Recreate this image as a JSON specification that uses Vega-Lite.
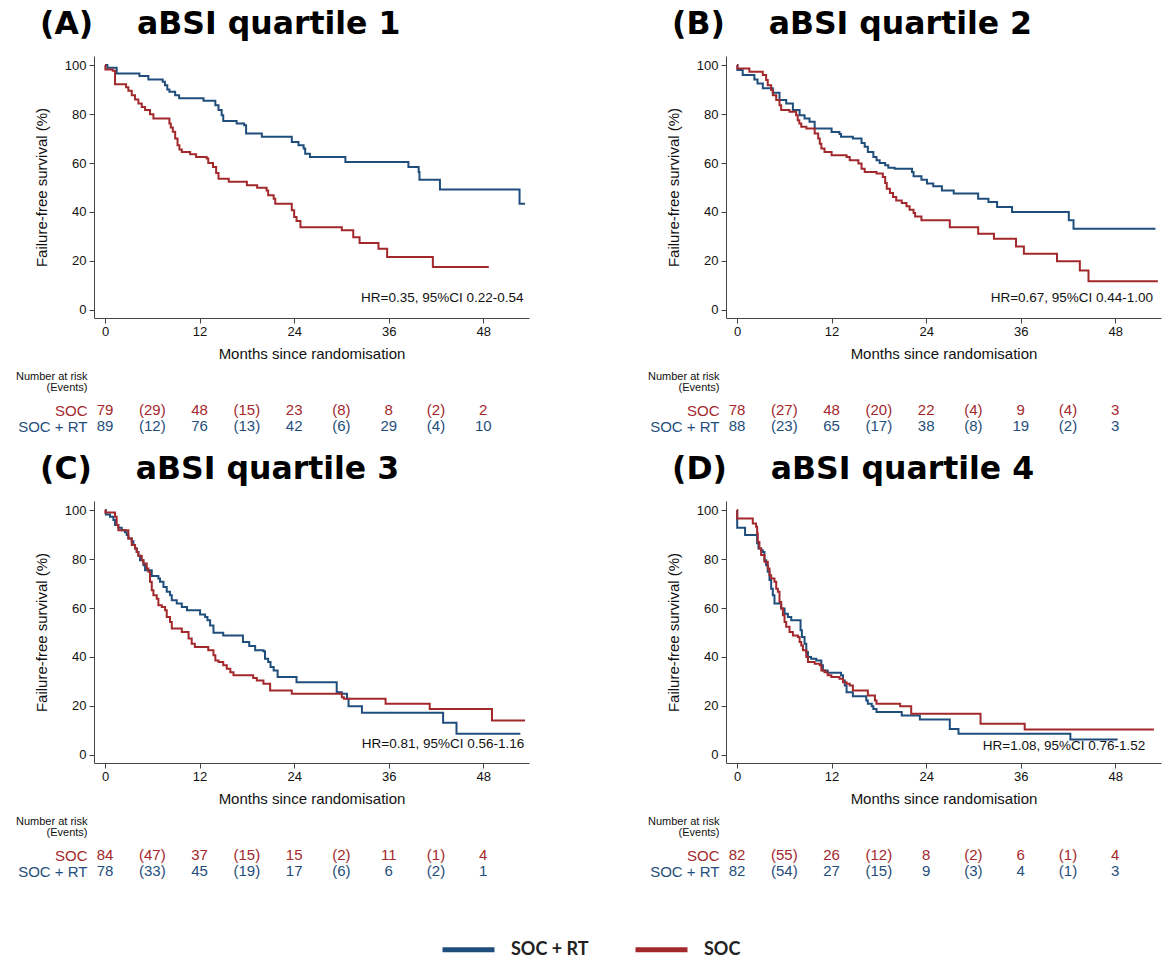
{
  "$schema": "https://vega.github.io/schema/vega-lite/v6.json",
  "padding": {"left": 15, "top": 8, "right": 2, "bottom": 2},
  "background": "white",
  "config": {
    "view": {"stroke": null},
    "axis": {"domainColor": "#444", "tickColor": "#444", "labelColor": "#111", "titleColor": "#111", "labelFont": "Liberation Sans", "titleFont": "Liberation Sans", "titleFontWeight": "normal", "grid": false, "labelFontSize": 13, "titleFontSize": 15},
    "text": {"font": "Liberation Sans"}
  },
  "datasets": {
    "curves": [
      {"p":"A","g":"SOC + RT","t":0,"s":100},{"p":"A","g":"SOC + RT","t":0.3,"s":98.9},{"p":"A","g":"SOC + RT","t":1.48,"s":96.6},{"p":"A","g":"SOC + RT","t":4.36,"s":95.5},{"p":"A","g":"SOC + RT","t":5.5,"s":94.1},{"p":"A","g":"SOC + RT","t":7.32,"s":93.2},{"p":"A","g":"SOC + RT","t":7.6,"s":91.8},{"p":"A","g":"SOC + RT","t":7.9,"s":90.0},{"p":"A","g":"SOC + RT","t":8.17,"s":89.1},{"p":"A","g":"SOC + RT","t":8.9,"s":87.7},{"p":"A","g":"SOC + RT","t":9.4,"s":86.4},{"p":"A","g":"SOC + RT","t":12.5,"s":85.4},{"p":"A","g":"SOC + RT","t":14.0,"s":83.6},{"p":"A","g":"SOC + RT","t":14.4,"s":81.6},{"p":"A","g":"SOC + RT","t":14.8,"s":79.5},{"p":"A","g":"SOC + RT","t":15.0,"s":77.2},{"p":"A","g":"SOC + RT","t":16.7,"s":76.1},{"p":"A","g":"SOC + RT","t":17.65,"s":75.4},{"p":"A","g":"SOC + RT","t":17.9,"s":72.0},{"p":"A","g":"SOC + RT","t":19.9,"s":70.7},{"p":"A","g":"SOC + RT","t":23.7,"s":68.6},{"p":"A","g":"SOC + RT","t":24.55,"s":67.3},{"p":"A","g":"SOC + RT","t":25.2,"s":65.9},{"p":"A","g":"SOC + RT","t":25.4,"s":63.8},{"p":"A","g":"SOC + RT","t":26.0,"s":62.5},{"p":"A","g":"SOC + RT","t":30.5,"s":60.4},{"p":"A","g":"SOC + RT","t":38.5,"s":58.4},{"p":"A","g":"SOC + RT","t":39.8,"s":56.3},{"p":"A","g":"SOC + RT","t":39.9,"s":53.2},{"p":"A","g":"SOC + RT","t":42.5,"s":49.2},{"p":"A","g":"SOC + RT","t":52.6,"s":43.4},{"p":"A","g":"SOC + RT","t":53.3,"s":43.4},
      {"p":"A","g":"SOC","t":0,"s":100},{"p":"A","g":"SOC","t":0.05,"s":98.2},{"p":"A","g":"SOC","t":0.97,"s":97.7},{"p":"A","g":"SOC","t":1.27,"s":92.2},{"p":"A","g":"SOC","t":2.67,"s":90.9},{"p":"A","g":"SOC","t":2.96,"s":89.5},{"p":"A","g":"SOC","t":3.39,"s":87.7},{"p":"A","g":"SOC","t":3.81,"s":85.9},{"p":"A","g":"SOC","t":4.23,"s":84.3},{"p":"A","g":"SOC","t":4.66,"s":82.9},{"p":"A","g":"SOC","t":5.08,"s":81.6},{"p":"A","g":"SOC","t":5.71,"s":79.9},{"p":"A","g":"SOC","t":6.14,"s":78.2},{"p":"A","g":"SOC","t":8.17,"s":76.1},{"p":"A","g":"SOC","t":8.34,"s":74.5},{"p":"A","g":"SOC","t":8.6,"s":72.8},{"p":"A","g":"SOC","t":8.9,"s":70.0},{"p":"A","g":"SOC","t":9.2,"s":67.3},{"p":"A","g":"SOC","t":9.44,"s":65.5},{"p":"A","g":"SOC","t":9.74,"s":64.5},{"p":"A","g":"SOC","t":10.8,"s":63.6},{"p":"A","g":"SOC","t":11.56,"s":62.5},{"p":"A","g":"SOC","t":12.9,"s":61.8},{"p":"A","g":"SOC","t":13.1,"s":60.0},{"p":"A","g":"SOC","t":13.7,"s":58.4},{"p":"A","g":"SOC","t":14.1,"s":55.9},{"p":"A","g":"SOC","t":14.4,"s":53.6},{"p":"A","g":"SOC","t":15.7,"s":52.3},{"p":"A","g":"SOC","t":18.0,"s":50.9},{"p":"A","g":"SOC","t":19.3,"s":49.9},{"p":"A","g":"SOC","t":20.5,"s":48.8},{"p":"A","g":"SOC","t":20.7,"s":46.8},{"p":"A","g":"SOC","t":21.4,"s":45.4},{"p":"A","g":"SOC","t":21.6,"s":43.4},{"p":"A","g":"SOC","t":23.7,"s":40.7},{"p":"A","g":"SOC","t":24.0,"s":37.9},{"p":"A","g":"SOC","t":24.3,"s":36.3},{"p":"A","g":"SOC","t":24.8,"s":33.8},{"p":"A","g":"SOC","t":30.05,"s":32.5},{"p":"A","g":"SOC","t":31.5,"s":29.7},{"p":"A","g":"SOC","t":32.3,"s":27.3},{"p":"A","g":"SOC","t":34.7,"s":25.0},{"p":"A","g":"SOC","t":35.8,"s":21.6},{"p":"A","g":"SOC","t":41.6,"s":17.5},{"p":"A","g":"SOC","t":48.7,"s":17.5},
      {"p":"B","g":"SOC + RT","t":0,"s":100},{"p":"B","g":"SOC + RT","t":0.05,"s":98.0},{"p":"B","g":"SOC + RT","t":0.72,"s":95.9},{"p":"B","g":"SOC + RT","t":2.2,"s":94.1},{"p":"B","g":"SOC + RT","t":2.6,"s":92.5},{"p":"B","g":"SOC + RT","t":3.27,"s":90.5},{"p":"B","g":"SOC + RT","t":4.54,"s":88.7},{"p":"B","g":"SOC + RT","t":5.39,"s":85.7},{"p":"B","g":"SOC + RT","t":6.24,"s":84.3},{"p":"B","g":"SOC + RT","t":7.09,"s":81.6},{"p":"B","g":"SOC + RT","t":7.94,"s":79.5},{"p":"B","g":"SOC + RT","t":8.57,"s":78.2},{"p":"B","g":"SOC + RT","t":9.2,"s":76.8},{"p":"B","g":"SOC + RT","t":9.85,"s":74.1},{"p":"B","g":"SOC + RT","t":12.0,"s":72.7},{"p":"B","g":"SOC + RT","t":13.0,"s":71.8},{"p":"B","g":"SOC + RT","t":13.2,"s":70.7},{"p":"B","g":"SOC + RT","t":14.7,"s":70.0},{"p":"B","g":"SOC + RT","t":15.8,"s":68.2},{"p":"B","g":"SOC + RT","t":16.2,"s":66.6},{"p":"B","g":"SOC + RT","t":16.6,"s":64.5},{"p":"B","g":"SOC + RT","t":17.3,"s":62.5},{"p":"B","g":"SOC + RT","t":17.7,"s":61.1},{"p":"B","g":"SOC + RT","t":18.1,"s":60.0},{"p":"B","g":"SOC + RT","t":18.8,"s":59.1},{"p":"B","g":"SOC + RT","t":19.2,"s":58.1},{"p":"B","g":"SOC + RT","t":20.0,"s":57.7},{"p":"B","g":"SOC + RT","t":22.2,"s":56.3},{"p":"B","g":"SOC + RT","t":22.4,"s":54.6},{"p":"B","g":"SOC + RT","t":23.4,"s":53.2},{"p":"B","g":"SOC + RT","t":24.1,"s":51.6},{"p":"B","g":"SOC + RT","t":24.9,"s":50.5},{"p":"B","g":"SOC + RT","t":26.0,"s":48.8},{"p":"B","g":"SOC + RT","t":27.5,"s":47.5},{"p":"B","g":"SOC + RT","t":30.6,"s":45.4},{"p":"B","g":"SOC + RT","t":31.9,"s":44.1},{"p":"B","g":"SOC + RT","t":33.0,"s":42.0},{"p":"B","g":"SOC + RT","t":34.9,"s":40.0},{"p":"B","g":"SOC + RT","t":42.1,"s":36.6},{"p":"B","g":"SOC + RT","t":42.7,"s":33.2},{"p":"B","g":"SOC + RT","t":53.1,"s":33.2},
      {"p":"B","g":"SOC","t":0,"s":100},{"p":"B","g":"SOC","t":0.05,"s":98.6},{"p":"B","g":"SOC","t":1.57,"s":97.3},{"p":"B","g":"SOC","t":3.27,"s":95.9},{"p":"B","g":"SOC","t":3.69,"s":93.9},{"p":"B","g":"SOC","t":3.9,"s":91.8},{"p":"B","g":"SOC","t":4.33,"s":89.8},{"p":"B","g":"SOC","t":4.54,"s":87.7},{"p":"B","g":"SOC","t":4.97,"s":85.7},{"p":"B","g":"SOC","t":5.39,"s":83.6},{"p":"B","g":"SOC","t":5.6,"s":81.6},{"p":"B","g":"SOC","t":6.66,"s":80.9},{"p":"B","g":"SOC","t":7.5,"s":79.5},{"p":"B","g":"SOC","t":7.7,"s":77.5},{"p":"B","g":"SOC","t":7.9,"s":76.1},{"p":"B","g":"SOC","t":8.15,"s":74.8},{"p":"B","g":"SOC","t":8.8,"s":74.1},{"p":"B","g":"SOC","t":9.85,"s":72.0},{"p":"B","g":"SOC","t":10.3,"s":70.0},{"p":"B","g":"SOC","t":10.5,"s":67.9},{"p":"B","g":"SOC","t":10.7,"s":65.9},{"p":"B","g":"SOC","t":11.1,"s":64.5},{"p":"B","g":"SOC","t":12.0,"s":63.2},{"p":"B","g":"SOC","t":13.9,"s":62.5},{"p":"B","g":"SOC","t":14.3,"s":61.1},{"p":"B","g":"SOC","t":15.4,"s":59.8},{"p":"B","g":"SOC","t":15.8,"s":57.7},{"p":"B","g":"SOC","t":16.2,"s":56.3},{"p":"B","g":"SOC","t":17.7,"s":55.7},{"p":"B","g":"SOC","t":18.5,"s":54.3},{"p":"B","g":"SOC","t":18.8,"s":51.8},{"p":"B","g":"SOC","t":19.0,"s":49.5},{"p":"B","g":"SOC","t":19.4,"s":47.7},{"p":"B","g":"SOC","t":19.8,"s":46.1},{"p":"B","g":"SOC","t":20.2,"s":44.7},{"p":"B","g":"SOC","t":20.9,"s":43.7},{"p":"B","g":"SOC","t":21.5,"s":42.3},{"p":"B","g":"SOC","t":21.9,"s":40.9},{"p":"B","g":"SOC","t":22.4,"s":39.6},{"p":"B","g":"SOC","t":22.6,"s":38.2},{"p":"B","g":"SOC","t":23.4,"s":36.6},{"p":"B","g":"SOC","t":27.0,"s":33.8},{"p":"B","g":"SOC","t":30.6,"s":31.1},{"p":"B","g":"SOC","t":32.6,"s":29.1},{"p":"B","g":"SOC","t":35.4,"s":25.9},{"p":"B","g":"SOC","t":36.4,"s":22.9},{"p":"B","g":"SOC","t":40.6,"s":19.9},{"p":"B","g":"SOC","t":43.5,"s":16.1},{"p":"B","g":"SOC","t":44.6,"s":11.7},{"p":"B","g":"SOC","t":53.4,"s":11.7},
      {"p":"C","g":"SOC + RT","t":0,"s":100},{"p":"C","g":"SOC + RT","t":0.1,"s":98.2},{"p":"C","g":"SOC + RT","t":0.63,"s":97.3},{"p":"C","g":"SOC + RT","t":1.06,"s":95.9},{"p":"C","g":"SOC + RT","t":1.27,"s":93.9},{"p":"C","g":"SOC + RT","t":1.69,"s":92.8},{"p":"C","g":"SOC + RT","t":2.12,"s":91.8},{"p":"C","g":"SOC + RT","t":2.54,"s":90.9},{"p":"C","g":"SOC + RT","t":2.75,"s":89.8},{"p":"C","g":"SOC + RT","t":2.96,"s":88.4},{"p":"C","g":"SOC + RT","t":3.39,"s":87.3},{"p":"C","g":"SOC + RT","t":3.6,"s":85.7},{"p":"C","g":"SOC + RT","t":3.81,"s":84.3},{"p":"C","g":"SOC + RT","t":4.02,"s":82.9},{"p":"C","g":"SOC + RT","t":4.23,"s":81.3},{"p":"C","g":"SOC + RT","t":4.44,"s":79.5},{"p":"C","g":"SOC + RT","t":4.87,"s":77.5},{"p":"C","g":"SOC + RT","t":5.08,"s":75.4},{"p":"C","g":"SOC + RT","t":5.93,"s":73.1},{"p":"C","g":"SOC + RT","t":6.77,"s":72.0},{"p":"C","g":"SOC + RT","t":6.98,"s":70.7},{"p":"C","g":"SOC + RT","t":7.41,"s":68.6},{"p":"C","g":"SOC + RT","t":7.83,"s":66.6},{"p":"C","g":"SOC + RT","t":8.25,"s":65.2},{"p":"C","g":"SOC + RT","t":8.47,"s":63.2},{"p":"C","g":"SOC + RT","t":9.1,"s":61.8},{"p":"C","g":"SOC + RT","t":9.74,"s":60.4},{"p":"C","g":"SOC + RT","t":10.4,"s":59.1},{"p":"C","g":"SOC + RT","t":12.06,"s":57.3},{"p":"C","g":"SOC + RT","t":12.7,"s":56.3},{"p":"C","g":"SOC + RT","t":13.0,"s":55.0},{"p":"C","g":"SOC + RT","t":13.33,"s":52.9},{"p":"C","g":"SOC + RT","t":13.76,"s":49.9},{"p":"C","g":"SOC + RT","t":15.0,"s":48.8},{"p":"C","g":"SOC + RT","t":17.5,"s":46.1},{"p":"C","g":"SOC + RT","t":18.3,"s":44.5},{"p":"C","g":"SOC + RT","t":19.05,"s":42.7},{"p":"C","g":"SOC + RT","t":20.1,"s":42.3},{"p":"C","g":"SOC + RT","t":20.3,"s":39.3},{"p":"C","g":"SOC + RT","t":20.7,"s":37.9},{"p":"C","g":"SOC + RT","t":21.0,"s":35.9},{"p":"C","g":"SOC + RT","t":21.4,"s":34.5},{"p":"C","g":"SOC + RT","t":21.9,"s":31.8},{"p":"C","g":"SOC + RT","t":24.3,"s":29.7},{"p":"C","g":"SOC + RT","t":29.4,"s":25.6},{"p":"C","g":"SOC + RT","t":30.05,"s":25.0},{"p":"C","g":"SOC + RT","t":30.7,"s":22.9},{"p":"C","g":"SOC + RT","t":30.9,"s":19.9},{"p":"C","g":"SOC + RT","t":32.6,"s":17.2},{"p":"C","g":"SOC + RT","t":42.9,"s":13.1},{"p":"C","g":"SOC + RT","t":44.6,"s":8.6},{"p":"C","g":"SOC + RT","t":52.7,"s":8.6},
      {"p":"C","g":"SOC","t":0,"s":100},{"p":"C","g":"SOC","t":0.05,"s":99.0},{"p":"C","g":"SOC","t":1.27,"s":97.3},{"p":"C","g":"SOC","t":1.48,"s":93.9},{"p":"C","g":"SOC","t":1.69,"s":91.8},{"p":"C","g":"SOC","t":2.96,"s":88.4},{"p":"C","g":"SOC","t":3.39,"s":85.7},{"p":"C","g":"SOC","t":3.81,"s":84.3},{"p":"C","g":"SOC","t":4.02,"s":82.9},{"p":"C","g":"SOC","t":4.23,"s":81.3},{"p":"C","g":"SOC","t":4.66,"s":79.5},{"p":"C","g":"SOC","t":4.87,"s":78.2},{"p":"C","g":"SOC","t":5.29,"s":76.1},{"p":"C","g":"SOC","t":5.5,"s":74.8},{"p":"C","g":"SOC","t":5.71,"s":70.7},{"p":"C","g":"SOC","t":5.93,"s":67.3},{"p":"C","g":"SOC","t":6.14,"s":65.2},{"p":"C","g":"SOC","t":6.56,"s":63.8},{"p":"C","g":"SOC","t":6.77,"s":61.1},{"p":"C","g":"SOC","t":7.2,"s":60.4},{"p":"C","g":"SOC","t":7.62,"s":59.1},{"p":"C","g":"SOC","t":7.83,"s":56.3},{"p":"C","g":"SOC","t":8.25,"s":54.3},{"p":"C","g":"SOC","t":8.47,"s":51.6},{"p":"C","g":"SOC","t":9.74,"s":50.2},{"p":"C","g":"SOC","t":10.6,"s":47.5},{"p":"C","g":"SOC","t":11.0,"s":45.4},{"p":"C","g":"SOC","t":11.4,"s":44.1},{"p":"C","g":"SOC","t":13.1,"s":42.7},{"p":"C","g":"SOC","t":13.76,"s":40.7},{"p":"C","g":"SOC","t":14.0,"s":38.6},{"p":"C","g":"SOC","t":14.4,"s":37.9},{"p":"C","g":"SOC","t":15.0,"s":36.6},{"p":"C","g":"SOC","t":15.45,"s":35.2},{"p":"C","g":"SOC","t":15.9,"s":33.8},{"p":"C","g":"SOC","t":16.3,"s":32.5},{"p":"C","g":"SOC","t":18.8,"s":31.4},{"p":"C","g":"SOC","t":19.26,"s":30.4},{"p":"C","g":"SOC","t":20.1,"s":29.1},{"p":"C","g":"SOC","t":20.95,"s":26.3},{"p":"C","g":"SOC","t":23.7,"s":25.0},{"p":"C","g":"SOC","t":30.05,"s":23.6},{"p":"C","g":"SOC","t":30.3,"s":22.9},{"p":"C","g":"SOC","t":35.6,"s":20.9},{"p":"C","g":"SOC","t":41.2,"s":18.8},{"p":"C","g":"SOC","t":49.1,"s":14.1},{"p":"C","g":"SOC","t":53.3,"s":14.1},
      {"p":"D","g":"SOC + RT","t":0,"s":100},{"p":"D","g":"SOC + RT","t":0.02,"s":92.8},{"p":"D","g":"SOC + RT","t":1.02,"s":89.8},{"p":"D","g":"SOC + RT","t":2.55,"s":86.4},{"p":"D","g":"SOC + RT","t":2.72,"s":84.3},{"p":"D","g":"SOC + RT","t":3.06,"s":83.6},{"p":"D","g":"SOC + RT","t":3.27,"s":82.9},{"p":"D","g":"SOC + RT","t":3.48,"s":79.5},{"p":"D","g":"SOC + RT","t":3.69,"s":77.5},{"p":"D","g":"SOC + RT","t":3.9,"s":74.8},{"p":"D","g":"SOC + RT","t":4.12,"s":71.4},{"p":"D","g":"SOC + RT","t":4.33,"s":67.9},{"p":"D","g":"SOC + RT","t":4.54,"s":65.2},{"p":"D","g":"SOC + RT","t":4.75,"s":61.8},{"p":"D","g":"SOC + RT","t":5.6,"s":59.8},{"p":"D","g":"SOC + RT","t":6.03,"s":57.7},{"p":"D","g":"SOC + RT","t":6.45,"s":56.3},{"p":"D","g":"SOC + RT","t":6.88,"s":55.0},{"p":"D","g":"SOC + RT","t":8.06,"s":50.9},{"p":"D","g":"SOC + RT","t":8.23,"s":48.2},{"p":"D","g":"SOC + RT","t":8.57,"s":45.4},{"p":"D","g":"SOC + RT","t":8.79,"s":42.0},{"p":"D","g":"SOC + RT","t":9.0,"s":40.0},{"p":"D","g":"SOC + RT","t":9.4,"s":39.3},{"p":"D","g":"SOC + RT","t":10.06,"s":38.6},{"p":"D","g":"SOC + RT","t":10.7,"s":36.6},{"p":"D","g":"SOC + RT","t":10.9,"s":34.5},{"p":"D","g":"SOC + RT","t":11.5,"s":33.6},{"p":"D","g":"SOC + RT","t":13.2,"s":32.5},{"p":"D","g":"SOC + RT","t":13.45,"s":30.4},{"p":"D","g":"SOC + RT","t":13.67,"s":28.4},{"p":"D","g":"SOC + RT","t":13.9,"s":25.6},{"p":"D","g":"SOC + RT","t":14.7,"s":24.0},{"p":"D","g":"SOC + RT","t":16.4,"s":22.2},{"p":"D","g":"SOC + RT","t":16.6,"s":20.9},{"p":"D","g":"SOC + RT","t":17.1,"s":19.9},{"p":"D","g":"SOC + RT","t":17.3,"s":18.8},{"p":"D","g":"SOC + RT","t":17.7,"s":17.5},{"p":"D","g":"SOC + RT","t":20.9,"s":16.1},{"p":"D","g":"SOC + RT","t":23.2,"s":14.5},{"p":"D","g":"SOC + RT","t":27.0,"s":10.6},{"p":"D","g":"SOC + RT","t":28.1,"s":8.6},{"p":"D","g":"SOC + RT","t":42.3,"s":6.3},{"p":"D","g":"SOC + RT","t":48.3,"s":6.3},
      {"p":"D","g":"SOC","t":0,"s":100},{"p":"D","g":"SOC","t":0.02,"s":96.6},{"p":"D","g":"SOC","t":2.0,"s":94.5},{"p":"D","g":"SOC","t":2.42,"s":93.2},{"p":"D","g":"SOC","t":2.55,"s":90.5},{"p":"D","g":"SOC","t":2.63,"s":87.0},{"p":"D","g":"SOC","t":2.84,"s":84.3},{"p":"D","g":"SOC","t":3.06,"s":81.6},{"p":"D","g":"SOC","t":3.48,"s":78.9},{"p":"D","g":"SOC","t":3.9,"s":76.1},{"p":"D","g":"SOC","t":4.12,"s":73.4},{"p":"D","g":"SOC","t":4.33,"s":72.0},{"p":"D","g":"SOC","t":4.75,"s":70.7},{"p":"D","g":"SOC","t":4.97,"s":67.9},{"p":"D","g":"SOC","t":5.18,"s":66.6},{"p":"D","g":"SOC","t":5.39,"s":62.5},{"p":"D","g":"SOC","t":5.6,"s":59.8},{"p":"D","g":"SOC","t":5.82,"s":57.0},{"p":"D","g":"SOC","t":6.03,"s":54.3},{"p":"D","g":"SOC","t":6.24,"s":52.3},{"p":"D","g":"SOC","t":6.66,"s":50.2},{"p":"D","g":"SOC","t":7.09,"s":48.8},{"p":"D","g":"SOC","t":7.72,"s":48.2},{"p":"D","g":"SOC","t":7.94,"s":46.1},{"p":"D","g":"SOC","t":8.15,"s":44.7},{"p":"D","g":"SOC","t":8.36,"s":42.7},{"p":"D","g":"SOC","t":8.79,"s":40.0},{"p":"D","g":"SOC","t":9.0,"s":37.9},{"p":"D","g":"SOC","t":9.85,"s":37.2},{"p":"D","g":"SOC","t":10.5,"s":36.6},{"p":"D","g":"SOC","t":10.7,"s":34.5},{"p":"D","g":"SOC","t":11.1,"s":33.8},{"p":"D","g":"SOC","t":11.5,"s":32.5},{"p":"D","g":"SOC","t":11.97,"s":31.8},{"p":"D","g":"SOC","t":13.0,"s":31.1},{"p":"D","g":"SOC","t":13.45,"s":29.7},{"p":"D","g":"SOC","t":13.9,"s":29.1},{"p":"D","g":"SOC","t":14.3,"s":28.4},{"p":"D","g":"SOC","t":14.7,"s":26.3},{"p":"D","g":"SOC","t":16.6,"s":24.3},{"p":"D","g":"SOC","t":17.5,"s":22.2},{"p":"D","g":"SOC","t":17.7,"s":20.9},{"p":"D","g":"SOC","t":20.7,"s":19.9},{"p":"D","g":"SOC","t":22.1,"s":16.8},{"p":"D","g":"SOC","t":30.9,"s":12.7},{"p":"D","g":"SOC","t":36.5,"s":10.4},{"p":"D","g":"SOC","t":52.9,"s":10.4}
    ],
    "hr": [
      {"p":"A","t":53.1,"s":4.9,"label":"HR=0.35, 95%CI 0.22-0.54"},
      {"p":"B","t":52.8,"s":4.9,"label":"HR=0.67, 95%CI 0.44-1.00"},
      {"p":"C","t":53.2,"s":4.5,"label":"HR=0.81, 95%CI 0.56-1.16"},
      {"p":"D","t":51.8,"s":3.5,"label":"HR=1.08, 95%CI 0.76-1.52"}
    ],
    "risk": [
      {"p":"A","g":"SOC","t":0,"v":"79"},{"p":"A","g":"SOC","t":6,"v":"(29)"},{"p":"A","g":"SOC","t":12,"v":"48"},{"p":"A","g":"SOC","t":18,"v":"(15)"},{"p":"A","g":"SOC","t":24,"v":"23"},{"p":"A","g":"SOC","t":30,"v":"(8)"},{"p":"A","g":"SOC","t":36,"v":"8"},{"p":"A","g":"SOC","t":42,"v":"(2)"},{"p":"A","g":"SOC","t":48,"v":"2"},
      {"p":"A","g":"SOC + RT","t":0,"v":"89"},{"p":"A","g":"SOC + RT","t":6,"v":"(12)"},{"p":"A","g":"SOC + RT","t":12,"v":"76"},{"p":"A","g":"SOC + RT","t":18,"v":"(13)"},{"p":"A","g":"SOC + RT","t":24,"v":"42"},{"p":"A","g":"SOC + RT","t":30,"v":"(6)"},{"p":"A","g":"SOC + RT","t":36,"v":"29"},{"p":"A","g":"SOC + RT","t":42,"v":"(4)"},{"p":"A","g":"SOC + RT","t":48,"v":"10"},
      {"p":"B","g":"SOC","t":0,"v":"78"},{"p":"B","g":"SOC","t":6,"v":"(27)"},{"p":"B","g":"SOC","t":12,"v":"48"},{"p":"B","g":"SOC","t":18,"v":"(20)"},{"p":"B","g":"SOC","t":24,"v":"22"},{"p":"B","g":"SOC","t":30,"v":"(4)"},{"p":"B","g":"SOC","t":36,"v":"9"},{"p":"B","g":"SOC","t":42,"v":"(4)"},{"p":"B","g":"SOC","t":48,"v":"3"},
      {"p":"B","g":"SOC + RT","t":0,"v":"88"},{"p":"B","g":"SOC + RT","t":6,"v":"(23)"},{"p":"B","g":"SOC + RT","t":12,"v":"65"},{"p":"B","g":"SOC + RT","t":18,"v":"(17)"},{"p":"B","g":"SOC + RT","t":24,"v":"38"},{"p":"B","g":"SOC + RT","t":30,"v":"(8)"},{"p":"B","g":"SOC + RT","t":36,"v":"19"},{"p":"B","g":"SOC + RT","t":42,"v":"(2)"},{"p":"B","g":"SOC + RT","t":48,"v":"3"},
      {"p":"C","g":"SOC","t":0,"v":"84"},{"p":"C","g":"SOC","t":6,"v":"(47)"},{"p":"C","g":"SOC","t":12,"v":"37"},{"p":"C","g":"SOC","t":18,"v":"(15)"},{"p":"C","g":"SOC","t":24,"v":"15"},{"p":"C","g":"SOC","t":30,"v":"(2)"},{"p":"C","g":"SOC","t":36,"v":"11"},{"p":"C","g":"SOC","t":42,"v":"(1)"},{"p":"C","g":"SOC","t":48,"v":"4"},
      {"p":"C","g":"SOC + RT","t":0,"v":"78"},{"p":"C","g":"SOC + RT","t":6,"v":"(33)"},{"p":"C","g":"SOC + RT","t":12,"v":"45"},{"p":"C","g":"SOC + RT","t":18,"v":"(19)"},{"p":"C","g":"SOC + RT","t":24,"v":"17"},{"p":"C","g":"SOC + RT","t":30,"v":"(6)"},{"p":"C","g":"SOC + RT","t":36,"v":"6"},{"p":"C","g":"SOC + RT","t":42,"v":"(2)"},{"p":"C","g":"SOC + RT","t":48,"v":"1"},
      {"p":"D","g":"SOC","t":0,"v":"82"},{"p":"D","g":"SOC","t":6,"v":"(55)"},{"p":"D","g":"SOC","t":12,"v":"26"},{"p":"D","g":"SOC","t":18,"v":"(12)"},{"p":"D","g":"SOC","t":24,"v":"8"},{"p":"D","g":"SOC","t":30,"v":"(2)"},{"p":"D","g":"SOC","t":36,"v":"6"},{"p":"D","g":"SOC","t":42,"v":"(1)"},{"p":"D","g":"SOC","t":48,"v":"4"},
      {"p":"D","g":"SOC + RT","t":0,"v":"82"},{"p":"D","g":"SOC + RT","t":6,"v":"(54)"},{"p":"D","g":"SOC + RT","t":12,"v":"27"},{"p":"D","g":"SOC + RT","t":18,"v":"(15)"},{"p":"D","g":"SOC + RT","t":24,"v":"9"},{"p":"D","g":"SOC + RT","t":30,"v":"(3)"},{"p":"D","g":"SOC + RT","t":36,"v":"4"},{"p":"D","g":"SOC + RT","t":42,"v":"(1)"},{"p":"D","g":"SOC + RT","t":48,"v":"3"}
    ]
  },
  "columns": 2,
  "bounds": "flush",
  "align": "each",
  "spacing": {"row": 67, "column": 197},
  "concat": [
    {
      "width": 435, "height": 262,
      "title": {"text": "(A)\u00a0\u00a0\u00a0\u00a0aBSI quartile 1", "anchor": "start", "frame": "group", "font": "DejaVu Sans", "fontSize": 31.5, "fontWeight": "bold", "color": "#000", "dx": -54, "offset": 16},
      "layer": [
        {
          "data": {"name": "curves"}, "transform": [{"filter": "datum.p == 'A'"}],
          "mark": {"type": "line", "interpolate": "step-after", "strokeWidth": 2},
          "encoding": {
            "x": {"field": "t", "type": "quantitative", "scale": {"domain": [-1.4, 53.8], "nice": false, "zero": false}, "axis": {"values": [0,12,24,36,48], "title": "Months since randomisation", "tickSize": 5, "labelPadding": 2, "titlePadding": 8}},
            "y": {"field": "s", "type": "quantitative", "scale": {"domain": [-3.3, 103.7], "nice": false, "zero": false}, "axis": {"values": [0,10,20,30,40,50,60,70,80,90,100], "labelExpr": "datum.value % 20 == 0 ? datum.label : ''", "title": "Failure-free survival (%)", "tickSize": 5, "labelPadding": 3, "titlePadding": 15}},
            "color": {"field": "g", "type": "nominal", "scale": {"domain": ["SOC + RT", "SOC"], "range": ["#1f4e7c", "#a3282c"]}, "legend": {"orient": "none", "legendX": 346, "legendY": 865, "direction": "horizontal", "title": null, "symbolType": "stroke", "symbolStrokeWidth": 5, "symbolSize": 2700, "labelFont": "Lato", "labelFontSize": 18, "labelFontWeight": "bold", "labelOffset": 14, "columnPadding": 36, "labelColor": "#222"}}
          }
        },
        {
          "data": {"name": "hr"}, "transform": [{"filter": "datum.p == 'A'"}],
          "mark": {"type": "text", "align": "right", "baseline": "middle", "fontSize": 13.5, "color": "#111"},
          "encoding": {"x": {"field": "t", "type": "quantitative"}, "y": {"field": "s", "type": "quantitative"}, "text": {"field": "label"}}
        }
      ]
    },
    {
      "width": 435, "height": 262,
      "title": {"text": "(B)\u00a0\u00a0\u00a0\u00a0aBSI quartile 2", "anchor": "start", "frame": "group", "font": "DejaVu Sans", "fontSize": 31.5, "fontWeight": "bold", "color": "#000", "dx": -54, "offset": 16},
      "layer": [
        {
          "data": {"name": "curves"}, "transform": [{"filter": "datum.p == 'B'"}],
          "mark": {"type": "line", "interpolate": "step-after", "strokeWidth": 2},
          "encoding": {
            "x": {"field": "t", "type": "quantitative", "scale": {"domain": [-1.4, 53.8], "nice": false, "zero": false}, "axis": {"values": [0,12,24,36,48], "title": "Months since randomisation", "tickSize": 5, "labelPadding": 2, "titlePadding": 8}},
            "y": {"field": "s", "type": "quantitative", "scale": {"domain": [-3.3, 103.7], "nice": false, "zero": false}, "axis": {"values": [0,10,20,30,40,50,60,70,80,90,100], "labelExpr": "datum.value % 20 == 0 ? datum.label : ''", "title": "Failure-free survival (%)", "tickSize": 5, "labelPadding": 3, "titlePadding": 15}},
            "color": {"field": "g", "type": "nominal"}
          }
        },
        {
          "data": {"name": "hr"}, "transform": [{"filter": "datum.p == 'B'"}],
          "mark": {"type": "text", "align": "right", "baseline": "middle", "fontSize": 13.5, "color": "#111"},
          "encoding": {"x": {"field": "t", "type": "quantitative"}, "y": {"field": "s", "type": "quantitative"}, "text": {"field": "label"}}
        }
      ]
    },
    {
      "width": 435, "height": 49,
      "data": {"name": "risk"}, "transform": [{"filter": "datum.p == 'A'"}],
      "mark": {"type": "text", "fontSize": 15, "baseline": "middle"},
      "encoding": {
        "x": {"field": "t", "type": "quantitative", "scale": {"domain": [-1.4, 53.8], "nice": false, "zero": false}, "axis": null},
        "y": {"field": "g", "type": "nominal", "scale": {"domain": ["SOC", "SOC + RT"], "range": [25, 41], "padding": 0}, "axis": {"title": ["Number at risk", "(Events)"], "titleAngle": 0, "titleAlign": "right", "titleBaseline": "bottom", "titleX": -7, "titleY": -4, "titleFontSize": 11, "titleLineHeight": 11, "domain": false, "ticks": false, "labelPadding": 7, "labelFontSize": 15, "labelColor": {"condition": {"test": "datum.value == 'SOC'", "value": "#a3282c"}, "value": "#1f4e7c"}}},
        "text": {"field": "v"},
        "color": {"condition": {"test": "datum.g == 'SOC'", "value": "#a3282c"}, "value": "#1f4e7c"}
      }
    },
    {
      "width": 435, "height": 49,
      "data": {"name": "risk"}, "transform": [{"filter": "datum.p == 'B'"}],
      "mark": {"type": "text", "fontSize": 15, "baseline": "middle"},
      "encoding": {
        "x": {"field": "t", "type": "quantitative", "scale": {"domain": [-1.4, 53.8], "nice": false, "zero": false}, "axis": null},
        "y": {"field": "g", "type": "nominal", "scale": {"domain": ["SOC", "SOC + RT"], "range": [25, 41], "padding": 0}, "axis": {"title": ["Number at risk", "(Events)"], "titleAngle": 0, "titleAlign": "right", "titleBaseline": "bottom", "titleX": -7, "titleY": -4, "titleFontSize": 11, "titleLineHeight": 11, "domain": false, "ticks": false, "labelPadding": 7, "labelFontSize": 15, "labelColor": {"condition": {"test": "datum.value == 'SOC'", "value": "#a3282c"}, "value": "#1f4e7c"}}},
        "text": {"field": "v"},
        "color": {"condition": {"test": "datum.g == 'SOC'", "value": "#a3282c"}, "value": "#1f4e7c"}
      }
    },
    {
      "width": 435, "height": 262,
      "title": {"text": "(C)\u00a0\u00a0\u00a0\u00a0aBSI quartile 3", "anchor": "start", "frame": "group", "font": "DejaVu Sans", "fontSize": 31.5, "fontWeight": "bold", "color": "#000", "dx": -54, "offset": 16},
      "layer": [
        {
          "data": {"name": "curves"}, "transform": [{"filter": "datum.p == 'C'"}],
          "mark": {"type": "line", "interpolate": "step-after", "strokeWidth": 2},
          "encoding": {
            "x": {"field": "t", "type": "quantitative", "scale": {"domain": [-1.4, 53.8], "nice": false, "zero": false}, "axis": {"values": [0,12,24,36,48], "title": "Months since randomisation", "tickSize": 5, "labelPadding": 2, "titlePadding": 8}},
            "y": {"field": "s", "type": "quantitative", "scale": {"domain": [-3.3, 103.7], "nice": false, "zero": false}, "axis": {"values": [0,10,20,30,40,50,60,70,80,90,100], "labelExpr": "datum.value % 20 == 0 ? datum.label : ''", "title": "Failure-free survival (%)", "tickSize": 5, "labelPadding": 3, "titlePadding": 15}},
            "color": {"field": "g", "type": "nominal"}
          }
        },
        {
          "data": {"name": "hr"}, "transform": [{"filter": "datum.p == 'C'"}],
          "mark": {"type": "text", "align": "right", "baseline": "middle", "fontSize": 13.5, "color": "#111"},
          "encoding": {"x": {"field": "t", "type": "quantitative"}, "y": {"field": "s", "type": "quantitative"}, "text": {"field": "label"}}
        }
      ]
    },
    {
      "width": 435, "height": 262,
      "title": {"text": "(D)\u00a0\u00a0\u00a0\u00a0aBSI quartile 4", "anchor": "start", "frame": "group", "font": "DejaVu Sans", "fontSize": 31.5, "fontWeight": "bold", "color": "#000", "dx": -54, "offset": 16},
      "layer": [
        {
          "data": {"name": "curves"}, "transform": [{"filter": "datum.p == 'D'"}],
          "mark": {"type": "line", "interpolate": "step-after", "strokeWidth": 2},
          "encoding": {
            "x": {"field": "t", "type": "quantitative", "scale": {"domain": [-1.4, 53.8], "nice": false, "zero": false}, "axis": {"values": [0,12,24,36,48], "title": "Months since randomisation", "tickSize": 5, "labelPadding": 2, "titlePadding": 8}},
            "y": {"field": "s", "type": "quantitative", "scale": {"domain": [-3.3, 103.7], "nice": false, "zero": false}, "axis": {"values": [0,10,20,30,40,50,60,70,80,90,100], "labelExpr": "datum.value % 20 == 0 ? datum.label : ''", "title": "Failure-free survival (%)", "tickSize": 5, "labelPadding": 3, "titlePadding": 15}},
            "color": {"field": "g", "type": "nominal"}
          }
        },
        {
          "data": {"name": "hr"}, "transform": [{"filter": "datum.p == 'D'"}],
          "mark": {"type": "text", "align": "right", "baseline": "middle", "fontSize": 13.5, "color": "#111"},
          "encoding": {"x": {"field": "t", "type": "quantitative"}, "y": {"field": "s", "type": "quantitative"}, "text": {"field": "label"}}
        }
      ]
    },
    {
      "width": 435, "height": 49,
      "data": {"name": "risk"}, "transform": [{"filter": "datum.p == 'C'"}],
      "mark": {"type": "text", "fontSize": 15, "baseline": "middle"},
      "encoding": {
        "x": {"field": "t", "type": "quantitative", "scale": {"domain": [-1.4, 53.8], "nice": false, "zero": false}, "axis": null},
        "y": {"field": "g", "type": "nominal", "scale": {"domain": ["SOC", "SOC + RT"], "range": [25, 41], "padding": 0}, "axis": {"title": ["Number at risk", "(Events)"], "titleAngle": 0, "titleAlign": "right", "titleBaseline": "bottom", "titleX": -7, "titleY": -4, "titleFontSize": 11, "titleLineHeight": 11, "domain": false, "ticks": false, "labelPadding": 7, "labelFontSize": 15, "labelColor": {"condition": {"test": "datum.value == 'SOC'", "value": "#a3282c"}, "value": "#1f4e7c"}}},
        "text": {"field": "v"},
        "color": {"condition": {"test": "datum.g == 'SOC'", "value": "#a3282c"}, "value": "#1f4e7c"}
      }
    },
    {
      "width": 435, "height": 49,
      "data": {"name": "risk"}, "transform": [{"filter": "datum.p == 'D'"}],
      "mark": {"type": "text", "fontSize": 15, "baseline": "middle"},
      "encoding": {
        "x": {"field": "t", "type": "quantitative", "scale": {"domain": [-1.4, 53.8], "nice": false, "zero": false}, "axis": null},
        "y": {"field": "g", "type": "nominal", "scale": {"domain": ["SOC", "SOC + RT"], "range": [25, 41], "padding": 0}, "axis": {"title": ["Number at risk", "(Events)"], "titleAngle": 0, "titleAlign": "right", "titleBaseline": "bottom", "titleX": -7, "titleY": -4, "titleFontSize": 11, "titleLineHeight": 11, "domain": false, "ticks": false, "labelPadding": 7, "labelFontSize": 15, "labelColor": {"condition": {"test": "datum.value == 'SOC'", "value": "#a3282c"}, "value": "#1f4e7c"}}},
        "text": {"field": "v"},
        "color": {"condition": {"test": "datum.g == 'SOC'", "value": "#a3282c"}, "value": "#1f4e7c"}
      }
    }
  ]
}
